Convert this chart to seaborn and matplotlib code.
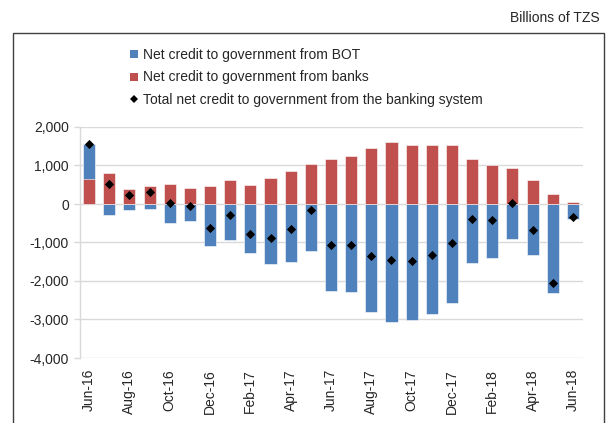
import numpy as np
import pandas as pd
import matplotlib
matplotlib.use("Agg")
import matplotlib.pyplot as plt
from matplotlib.lines import Line2D
from matplotlib.patches import Rectangle
from matplotlib.ticker import FuncFormatter
import seaborn as sns

months = ["Jun-16", "Jul-16", "Aug-16", "Sep-16", "Oct-16", "Nov-16", "Dec-16",
          "Jan-17", "Feb-17", "Mar-17", "Apr-17", "May-17", "Jun-17", "Jul-17",
          "Aug-17", "Sep-17", "Oct-17", "Nov-17", "Dec-17", "Jan-18", "Feb-18",
          "Mar-18", "Apr-18", "May-18", "Jun-18"]
bot = [900, -295, -165, -139, -505, -452, -1087, -930, -1280, -1570, -1513, -1210,
       -2249, -2292, -2807, -3073, -3021, -2867, -2575, -1536, -1408, -918, -1313,
       -2318, -386]
banks = [650, 810, 383, 461, 515, 409, 461, 630, 500, 680, 852, 1035,
         1159, 1236, 1442, 1622, 1545, 1545, 1545, 1159, 1004, 927, 635, 249, 43]
total = [1550, 520, 226, 313, 15, -43, -626, -296, -780, -895, -650, -165,
         -1075, -1070, -1356, -1451, -1468, -1313, -1021, -378, -420, 15, -665,
         -2062, -343]

BLUE = "#4F81BD"
RED = "#C0504D"

sns.set_theme(style="white")
plt.rcParams["font.family"] = ["Liberation Sans", "DejaVu Sans"]

bot_a = np.array(bot, dtype=float)
banks_a = np.array(banks, dtype=float)
# blue bar drawn from 0 to its stacked end; positive BOT sits on top of banks
blue_top = np.where(bot_a > 0, bot_a + banks_a, bot_a)

df = pd.DataFrame({"month": months, "blue": blue_top, "red": banks_a,
                   "total": total})

fig = plt.figure(figsize=(6.08, 4.23), dpi=100)
ax = fig.add_axes([80 / 608, 1 - 358 / 423, (583 - 80) / 608, (358 - 127) / 423])

sns.barplot(data=df, x="month", y="blue", color=BLUE, saturation=1, width=0.6,
            edgecolor="white", linewidth=0.4, ax=ax, zorder=2)
sns.barplot(data=df, x="month", y="red", color=RED, saturation=1, width=0.6,
            edgecolor="white", linewidth=0.4, ax=ax, zorder=3)
sns.scatterplot(data=df, x="month", y="total", marker="D", color="black",
                s=22, linewidth=0, ax=ax, zorder=4)

ax.set_ylim(-4000, 2000)
ax.set_xlim(-0.45, 24.5)
ax.set_yticks(np.arange(-4000, 2001, 1000))
ax.yaxis.set_major_formatter(FuncFormatter(lambda v, p: f"{v:,.0f}"))
ax.set_xticks(range(0, 25, 2))
ax.set_xticklabels(months[::2], rotation=90)
ax.set_xlabel("")
ax.set_ylabel("")
ax.grid(axis="y", color="#D9D9D9", linewidth=1, zorder=0)
ax.grid(axis="x", visible=False)
ax.set_axisbelow(True)
for s in ["top", "right", "bottom"]:
    ax.spines[s].set_visible(False)
ax.spines["left"].set_color("#D9D9D9")
ax.spines["left"].set_linewidth(1)
ax.tick_params(axis="y", length=4, color="#D9D9D9", width=1, labelsize=10,
               pad=4, left=True, direction="out")
ax.tick_params(axis="x", length=0, labelsize=10, pad=8)

handles = [
    Line2D([], [], linestyle="none", marker="s", markersize=5.6,
           markerfacecolor=BLUE, markeredgewidth=0),
    Line2D([], [], linestyle="none", marker="s", markersize=5.6,
           markerfacecolor=RED, markeredgewidth=0),
    Line2D([], [], linestyle="none", marker="D", markersize=3.6,
           markerfacecolor="black", markeredgewidth=0),
]
labels = ["Net credit to government from BOT",
          "Net credit to government from banks",
          "Total net credit to government from the banking system"]
fig.legend(handles, labels, loc="upper left",
           bbox_to_anchor=(130 / 608, 1 - 47.5 / 423), frameon=False,
           fontsize=10, handlelength=0.6, handletextpad=0.35,
           labelspacing=0.64, borderpad=0, borderaxespad=0)

fig.text(600 / 608, 1 - 18 / 423, "Billions of TZS", ha="right", va="center",
         fontsize=10)
fig.patches.append(Rectangle((13 / 608, -0.05), (604 - 13) / 608,
                             1 - 32.7 / 423 + 0.05, transform=fig.transFigure,
                             fill=False, edgecolor="#404040", linewidth=1))

fig.savefig("out.png", dpi=100)
